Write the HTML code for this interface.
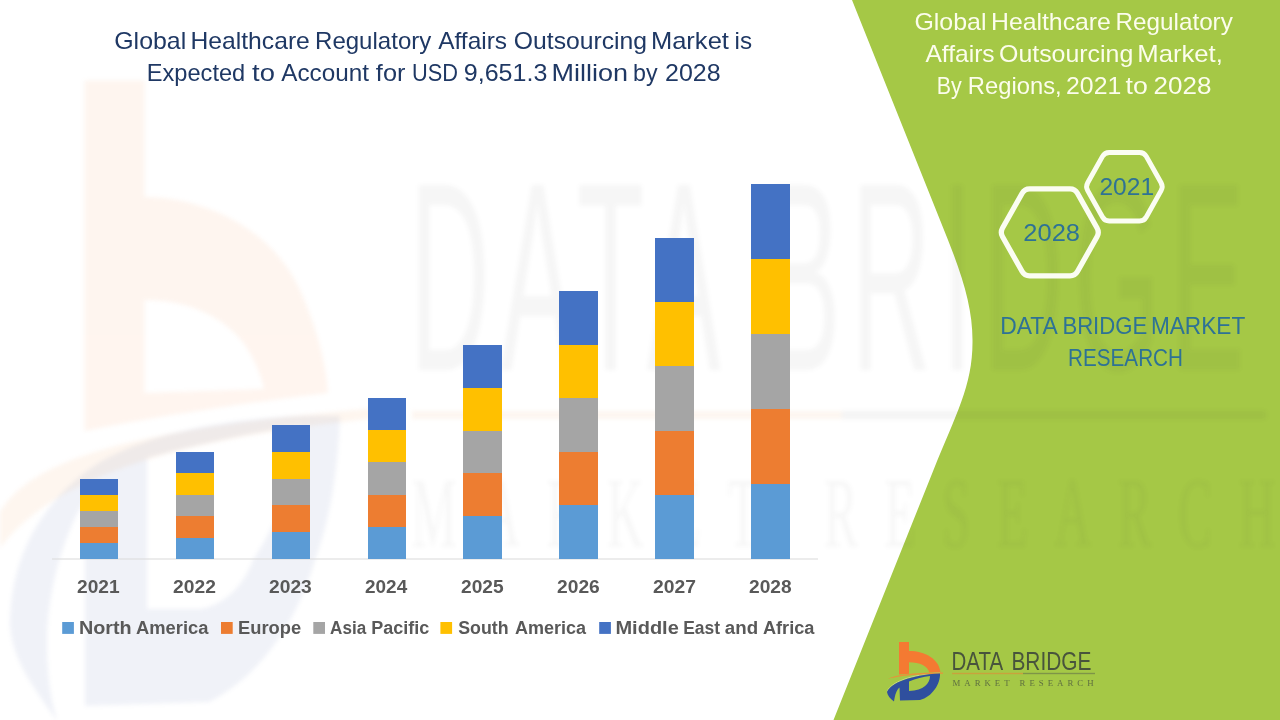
<!DOCTYPE html>
<html>
<head>
<meta charset="utf-8">
<title>Global Healthcare Regulatory Affairs Outsourcing Market</title>
<style>
  html, body { margin: 0; padding: 0; background: #ffffff; }
  body { width: 1280px; height: 720px; overflow: hidden; font-family: "Liberation Sans", sans-serif; }
  svg { display: block; position: absolute; left: 0; top: 0; }
</style>
</head>
<body>
<svg width="1280" height="720" viewBox="0 0 1280 720" font-family="'Liberation Sans', sans-serif" font-kerning="none">
  <defs>
    <filter id="wmblur" x="-5%" y="-5%" width="110%" height="110%" color-interpolation-filters="sRGB">
      <feGaussianBlur stdDeviation="2.2"/>
    </filter>
  </defs>

  <!-- background -->
  <rect x="0" y="0" width="1280" height="720" fill="#ffffff"/>

  <!-- green panel -->
  <path fill="#A5C846" d="M852,0 L948,240 C964,280 972.5,310 972.5,340 C973,385 956,414 933.5,470 L833.5,720 L1280,720 L1280,0 Z"/>

  <!-- watermark -->
  <g filter="url(#wmblur)">
    <g opacity="0.078">
      <path fill="#F47A32" fill-rule="evenodd" d="M84.5,80.6 L144.5,80.6 L144.5,197 C200,197 270,225 300,290 C318,330 326,365 328,393 C270,400 180,412 84.5,431 Z M144.5,300 C190,300 225,318 245,345 C256,362 262,378 264,389 L144.5,393 Z"/>
      <path fill="#F08A3A" d="M0,512 C30,462 120,428 400,406 L400,416 C140,440 45,490 0,548 Z"/>
    </g>
    <g opacity="0.075">
      <path fill="#2F4F9E" fill-rule="evenodd" d="M58,722 C35,690 12,660 10,625 C10,560 40,500 100,462 C160,428 250,414 340,416 C338,470 330,520 315,560 C300,610 270,670 209,702 L85,706 L85,500 C60,540 47,600 47,640 C47,680 52,705 58,722 Z M147,458 C190,446 250,433 300,425 C296,470 280,520 253,560 C244,585 225,605 200,609 L147,609 Z"/>
    </g>
    <g opacity="0.045" fill="#303030">
      <text transform="translate(410,370) scale(0.41,1)" font-size="269" x="0" y="0" textLength="2035" lengthAdjust="spacing">DATA BRIDGE</text>
      <text transform="translate(412,546) scale(0.5,1)" font-family="'Liberation Serif', serif" font-size="100" x="0" y="0" textLength="1726" lengthAdjust="spacing" opacity="0.9">MARKET RESEARCH</text>
    </g>
    <rect x="412" y="411" width="430" height="8" fill="#E8923A" opacity="0.08"/>
    <rect x="842" y="411" width="424" height="8" fill="#303030" opacity="0.05"/>
  </g>

  <!-- axis line -->
  <rect x="52" y="558.5" width="766" height="1" fill="#D9D9D9"/>

  <!-- bars -->
  <g shape-rendering="crispEdges">
    <rect x="80" y="479.00" width="38" height="80.00" fill="#4472C4"/>
    <rect x="80" y="495.00" width="38" height="64.00" fill="#FFC000"/>
    <rect x="80" y="511.00" width="38" height="48.00" fill="#A5A5A5"/>
    <rect x="80" y="527.00" width="38" height="32.00" fill="#ED7D31"/>
    <rect x="80" y="543.00" width="38" height="16.00" fill="#5B9BD5"/>
    <rect x="176" y="452.00" width="38" height="107.00" fill="#4472C4"/>
    <rect x="176" y="473.40" width="38" height="85.60" fill="#FFC000"/>
    <rect x="176" y="494.80" width="38" height="64.20" fill="#A5A5A5"/>
    <rect x="176" y="516.20" width="38" height="42.80" fill="#ED7D31"/>
    <rect x="176" y="537.60" width="38" height="21.40" fill="#5B9BD5"/>
    <rect x="272" y="425.00" width="38" height="134.00" fill="#4472C4"/>
    <rect x="272" y="451.80" width="38" height="107.20" fill="#FFC000"/>
    <rect x="272" y="478.60" width="38" height="80.40" fill="#A5A5A5"/>
    <rect x="272" y="505.40" width="38" height="53.60" fill="#ED7D31"/>
    <rect x="272" y="532.20" width="38" height="26.80" fill="#5B9BD5"/>
    <rect x="368" y="398.00" width="38" height="161.00" fill="#4472C4"/>
    <rect x="368" y="430.20" width="38" height="128.80" fill="#FFC000"/>
    <rect x="368" y="462.40" width="38" height="96.60" fill="#A5A5A5"/>
    <rect x="368" y="494.60" width="38" height="64.40" fill="#ED7D31"/>
    <rect x="368" y="526.80" width="38" height="32.20" fill="#5B9BD5"/>
    <rect x="463" y="345.00" width="39" height="214.00" fill="#4472C4"/>
    <rect x="463" y="387.80" width="39" height="171.20" fill="#FFC000"/>
    <rect x="463" y="430.60" width="39" height="128.40" fill="#A5A5A5"/>
    <rect x="463" y="473.40" width="39" height="85.60" fill="#ED7D31"/>
    <rect x="463" y="516.20" width="39" height="42.80" fill="#5B9BD5"/>
    <rect x="559" y="291.00" width="39" height="268.00" fill="#4472C4"/>
    <rect x="559" y="344.60" width="39" height="214.40" fill="#FFC000"/>
    <rect x="559" y="398.20" width="39" height="160.80" fill="#A5A5A5"/>
    <rect x="559" y="451.80" width="39" height="107.20" fill="#ED7D31"/>
    <rect x="559" y="505.40" width="39" height="53.60" fill="#5B9BD5"/>
    <rect x="655" y="238.00" width="39" height="321.00" fill="#4472C4"/>
    <rect x="655" y="302.20" width="39" height="256.80" fill="#FFC000"/>
    <rect x="655" y="366.40" width="39" height="192.60" fill="#A5A5A5"/>
    <rect x="655" y="430.60" width="39" height="128.40" fill="#ED7D31"/>
    <rect x="655" y="494.80" width="39" height="64.20" fill="#5B9BD5"/>
    <rect x="751" y="184.00" width="39" height="375.00" fill="#4472C4"/>
    <rect x="751" y="259.00" width="39" height="300.00" fill="#FFC000"/>
    <rect x="751" y="334.00" width="39" height="225.00" fill="#A5A5A5"/>
    <rect x="751" y="409.00" width="39" height="150.00" fill="#ED7D31"/>
    <rect x="751" y="484.00" width="39" height="75.00" fill="#5B9BD5"/>
  </g>

  <!-- hexagons -->
  <g>
    <path d="M1087.70,190.63 Q1085.50,186.70 1087.70,182.77 L1102.50,156.38 Q1104.70,152.45 1109.20,152.45 L1139.60,152.45 Q1144.10,152.45 1146.30,156.38 L1161.10,182.77 Q1163.30,186.70 1161.10,190.63 L1146.30,217.02 Q1144.10,220.95 1139.60,220.95 L1109.20,220.95 Q1104.70,220.95 1102.50,217.02 Z" fill="none" stroke="#FBFDF2" stroke-width="4.9" stroke-linejoin="round"/>
    <path d="M1002.55,236.76 Q1000.10,232.40 1002.55,228.04 L1022.15,193.26 Q1024.60,188.90 1029.60,188.90 L1070.00,188.90 Q1075.00,188.90 1077.45,193.26 L1097.05,228.04 Q1099.50,232.40 1097.05,236.76 L1077.45,271.54 Q1075.00,275.90 1070.00,275.90 L1029.60,275.90 Q1024.60,275.90 1022.15,271.54 Z" fill="none" stroke="#FBFDF2" stroke-width="5.3" stroke-linejoin="round"/>
  </g>

  <!-- text labels -->
  <g>
    <text x="114.25" y="48.80" font-size="23.6" fill="#1F3864" font-weight="normal" textLength="71.92" lengthAdjust="spacingAndGlyphs">Global</text>
    <text x="190.48" y="48.80" font-size="23.6" fill="#1F3864" font-weight="normal" textLength="119.37" lengthAdjust="spacingAndGlyphs">Healthcare</text>
    <text x="315.03" y="48.80" font-size="23.6" fill="#1F3864" font-weight="normal" textLength="116.27" lengthAdjust="spacingAndGlyphs">Regulatory</text>
    <text x="438.20" y="48.80" font-size="23.6" fill="#1F3864" font-weight="normal" textLength="68.93" lengthAdjust="spacingAndGlyphs">Affairs</text>
    <text x="513.83" y="48.80" font-size="23.6" fill="#1F3864" font-weight="normal" textLength="133.26" lengthAdjust="spacingAndGlyphs">Outsourcing</text>
    <text x="650.91" y="48.80" font-size="23.6" fill="#1F3864" font-weight="normal" textLength="78.03" lengthAdjust="spacingAndGlyphs">Market</text>
    <text x="734.63" y="48.80" font-size="23.6" fill="#1F3864" font-weight="normal" textLength="17.50" lengthAdjust="spacingAndGlyphs">is</text>
    <text x="146.81" y="80.80" font-size="23.6" fill="#1F3864" font-weight="normal" textLength="98.46" lengthAdjust="spacingAndGlyphs">Expected</text>
    <text x="252.09" y="80.80" font-size="23.6" fill="#1F3864" font-weight="normal" textLength="22.81" lengthAdjust="spacingAndGlyphs">to</text>
    <text x="281.20" y="80.80" font-size="23.6" fill="#1F3864" font-weight="normal" textLength="87.73" lengthAdjust="spacingAndGlyphs">Account</text>
    <text x="375.89" y="80.80" font-size="23.6" fill="#1F3864" font-weight="normal" textLength="29.53" lengthAdjust="spacingAndGlyphs">for</text>
    <text x="412.07" y="80.80" font-size="23.6" fill="#1F3864" font-weight="normal" textLength="45.97" lengthAdjust="spacingAndGlyphs">USD</text>
    <text x="463.83" y="80.80" font-size="23.6" fill="#1F3864" font-weight="normal" textLength="83.52" lengthAdjust="spacingAndGlyphs">9,651.3</text>
    <text x="551.54" y="80.80" font-size="23.6" fill="#1F3864" font-weight="normal" textLength="76.47" lengthAdjust="spacingAndGlyphs">Million</text>
    <text x="633.00" y="80.80" font-size="23.6" fill="#1F3864" font-weight="normal" textLength="24.54" lengthAdjust="spacingAndGlyphs">by</text>
    <text x="664.99" y="80.80" font-size="23.6" fill="#1F3864" font-weight="normal" textLength="55.59" lengthAdjust="spacingAndGlyphs">2028</text>
    <text x="914.45" y="29.70" font-size="23.4" fill="#FCFDEC" font-weight="normal" textLength="72.02" lengthAdjust="spacingAndGlyphs">Global</text>
    <text x="990.97" y="29.70" font-size="23.4" fill="#FCFDEC" font-weight="normal" textLength="119.94" lengthAdjust="spacingAndGlyphs">Healthcare</text>
    <text x="1115.51" y="29.70" font-size="23.4" fill="#FCFDEC" font-weight="normal" textLength="117.34" lengthAdjust="spacingAndGlyphs">Regulatory</text>
    <text x="925.45" y="61.75" font-size="23.4" fill="#FCFDEC" font-weight="normal" textLength="69.23" lengthAdjust="spacingAndGlyphs">Affairs</text>
    <text x="999.02" y="61.75" font-size="23.4" fill="#FCFDEC" font-weight="normal" textLength="134.28" lengthAdjust="spacingAndGlyphs">Outsourcing</text>
    <text x="1137.29" y="61.75" font-size="23.4" fill="#FCFDEC" font-weight="normal" textLength="85.61" lengthAdjust="spacingAndGlyphs">Market,</text>
    <text x="936.64" y="93.80" font-size="23.4" fill="#FCFDEC" font-weight="normal" textLength="25.00" lengthAdjust="spacingAndGlyphs">By</text>
    <text x="967.85" y="93.80" font-size="23.4" fill="#FCFDEC" font-weight="normal" textLength="93.78" lengthAdjust="spacingAndGlyphs">Regions,</text>
    <text x="1066.05" y="93.80" font-size="23.4" fill="#FCFDEC" font-weight="normal" textLength="55.26" lengthAdjust="spacingAndGlyphs">2021</text>
    <text x="1125.60" y="93.80" font-size="23.4" fill="#FCFDEC" font-weight="normal" textLength="22.22" lengthAdjust="spacingAndGlyphs">to</text>
    <text x="1153.59" y="93.80" font-size="23.4" fill="#FCFDEC" font-weight="normal" textLength="57.84" lengthAdjust="spacingAndGlyphs">2028</text>
    <text x="1099.46" y="194.70" font-size="23.3" fill="#2E7295" font-weight="normal" textLength="54.63" lengthAdjust="spacingAndGlyphs">2021</text>
    <text x="1023.32" y="240.70" font-size="23.3" fill="#2E7295" font-weight="normal" textLength="56.69" lengthAdjust="spacingAndGlyphs">2028</text>
    <text x="1000.13" y="334.00" font-size="23.6" fill="#2E7295" font-weight="normal" textLength="57.61" lengthAdjust="spacingAndGlyphs">DATA</text>
    <text x="1062.38" y="334.00" font-size="23.6" fill="#2E7295" font-weight="normal" textLength="84.87" lengthAdjust="spacingAndGlyphs">BRIDGE</text>
    <text x="1150.94" y="334.00" font-size="23.6" fill="#2E7295" font-weight="normal" textLength="94.28" lengthAdjust="spacingAndGlyphs">MARKET</text>
    <text x="1068.00" y="365.80" font-size="23.6" fill="#2E7295" font-weight="normal" textLength="114.98" lengthAdjust="spacingAndGlyphs">RESEARCH</text>
    <text x="77.04" y="593.10" font-size="18.1" fill="#595959" font-weight="bold" textLength="42.60" lengthAdjust="spacingAndGlyphs">2021</text>
    <text x="173.03" y="593.10" font-size="18.1" fill="#595959" font-weight="bold" textLength="42.84" lengthAdjust="spacingAndGlyphs">2022</text>
    <text x="269.03" y="593.10" font-size="18.1" fill="#595959" font-weight="bold" textLength="42.76" lengthAdjust="spacingAndGlyphs">2023</text>
    <text x="365.04" y="593.10" font-size="18.1" fill="#595959" font-weight="bold" textLength="42.16" lengthAdjust="spacingAndGlyphs">2024</text>
    <text x="461.04" y="593.10" font-size="18.1" fill="#595959" font-weight="bold" textLength="42.60" lengthAdjust="spacingAndGlyphs">2025</text>
    <text x="557.03" y="593.10" font-size="18.1" fill="#595959" font-weight="bold" textLength="42.76" lengthAdjust="spacingAndGlyphs">2026</text>
    <text x="653.03" y="593.10" font-size="18.1" fill="#595959" font-weight="bold" textLength="42.92" lengthAdjust="spacingAndGlyphs">2027</text>
    <text x="749.04" y="593.10" font-size="18.1" fill="#595959" font-weight="bold" textLength="42.65" lengthAdjust="spacingAndGlyphs">2028</text>
    <rect x="62.2" y="622" width="11.7" height="11.9" fill="#5B9BD5"/>
    <text x="78.93" y="633.90" font-size="18.0" fill="#595959" font-weight="bold" textLength="52.80" lengthAdjust="spacingAndGlyphs">North</text>
    <text x="136.04" y="633.90" font-size="18.0" fill="#595959" font-weight="bold" textLength="72.34" lengthAdjust="spacingAndGlyphs">America</text>
    <rect x="221.0" y="622" width="11.7" height="11.9" fill="#ED7D31"/>
    <text x="238.02" y="633.90" font-size="18.0" fill="#595959" font-weight="bold" textLength="63.10" lengthAdjust="spacingAndGlyphs">Europe</text>
    <rect x="313.3" y="622" width="11.7" height="11.9" fill="#A5A5A5"/>
    <text x="330.07" y="633.90" font-size="18.0" fill="#595959" font-weight="bold" textLength="36.07" lengthAdjust="spacingAndGlyphs">Asia</text>
    <text x="371.30" y="633.90" font-size="18.0" fill="#595959" font-weight="bold" textLength="57.98" lengthAdjust="spacingAndGlyphs">Pacific</text>
    <rect x="440.4" y="622" width="11.7" height="11.9" fill="#FFC000"/>
    <text x="458.24" y="633.90" font-size="18.0" fill="#595959" font-weight="bold" textLength="50.36" lengthAdjust="spacingAndGlyphs">South</text>
    <text x="515.05" y="633.90" font-size="18.0" fill="#595959" font-weight="bold" textLength="71.08" lengthAdjust="spacingAndGlyphs">America</text>
    <rect x="599.2" y="622" width="11.7" height="11.9" fill="#4472C4"/>
    <text x="615.46" y="633.90" font-size="18.0" fill="#595959" font-weight="bold" textLength="63.32" lengthAdjust="spacingAndGlyphs">Middle</text>
    <text x="683.13" y="633.90" font-size="18.0" fill="#595959" font-weight="bold" textLength="36.83" lengthAdjust="spacingAndGlyphs">East</text>
    <text x="724.85" y="633.90" font-size="18.0" fill="#595959" font-weight="bold" textLength="33.28" lengthAdjust="spacingAndGlyphs">and</text>
    <text x="762.95" y="633.90" font-size="18.0" fill="#595959" font-weight="bold" textLength="51.54" lengthAdjust="spacingAndGlyphs">Africa</text>
  </g>

  <!-- small logo -->
  <g>
    <g transform="translate(880,636) scale(0.1)">
      <path fill="#F47A32" d="M190,60 L290,60 L290,150 C450,150 590,230 605,362 L492,366 C480,300 400,262 290,262 L290,378 L190,385 Z"/>
      <path fill="none" stroke="#C9D98C" stroke-width="9" d="M72,552 C112,464 300,384 600,369"/>
      <path fill="#E8923A" d="M80,430 C150,392 300,368 630,366 L630,378 C300,382 165,408 80,430 Z"/>
      <path fill="#2F4F9E" fill-rule="evenodd" d="M140,655 C100,625 75,595 70,560 C110,470 300,390 600,375 C605,480 520,610 400,640 L200,645 L195,515 C165,540 150,590 140,655 Z M290,455 C360,425 430,408 500,400 C500,470 440,545 290,550 Z"/>
    </g>
    <text x="951.51" y="669.80" font-size="25.2" fill="#48543C" font-weight="normal" textLength="51.63" lengthAdjust="spacingAndGlyphs">DATA</text>
    <text x="1011.39" y="669.80" font-size="25.2" fill="#48543C" font-weight="normal" textLength="80.11" lengthAdjust="spacingAndGlyphs">BRIDGE</text>
    <rect x="952" y="672.8" width="71" height="1.4" fill="#C9A23C"/>
    <rect x="1023" y="672.8" width="72" height="1.4" fill="#7E9448"/>
    <text x="952.5" y="685.9" font-family="'Liberation Serif', serif" font-size="8.8" fill="#5F7040" textLength="141" lengthAdjust="spacing">MARKET  RESEARCH</text>
  </g>
</svg>
</body>
</html>
